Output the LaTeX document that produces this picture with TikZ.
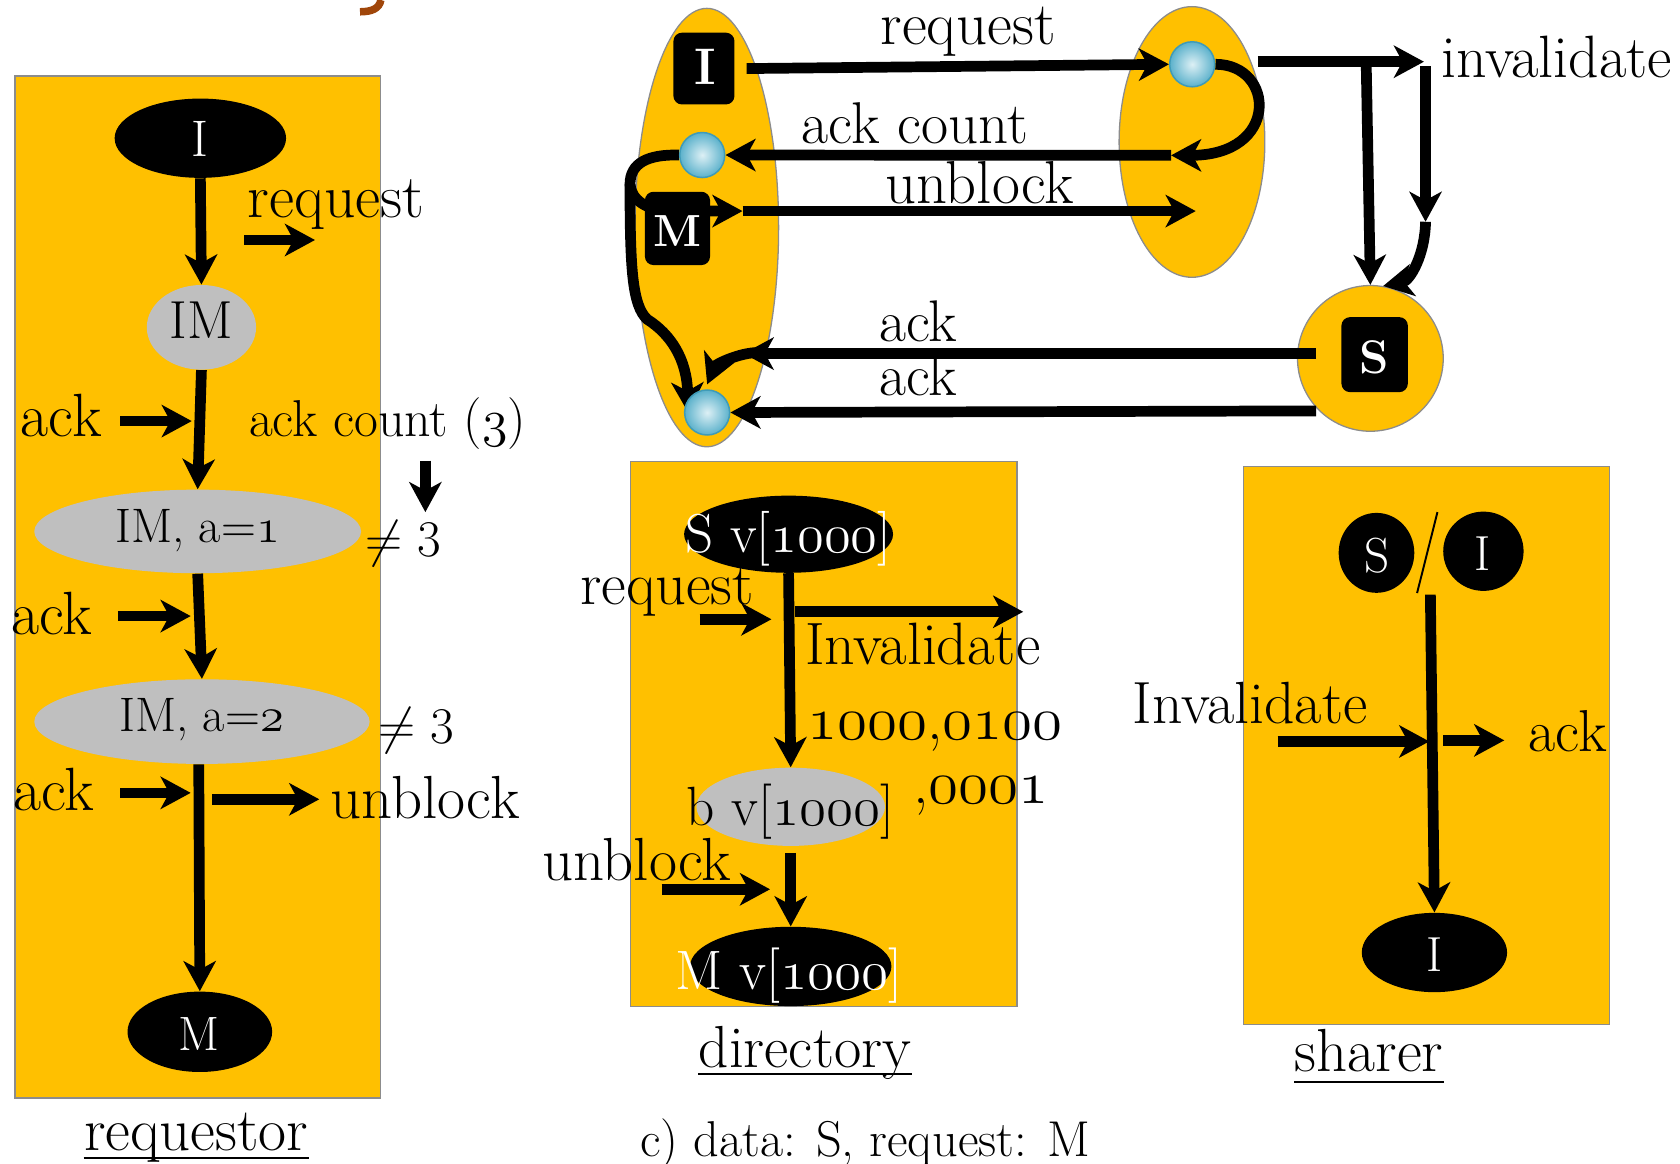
\RequirePackage{fix-cm}
\documentclass[tikz,border=0pt]{standalone}
\usetikzlibrary{shapes.geometric,arrows.meta}
\pgfdeclarelayer{back}
\pgfdeclarelayer{mid}
\pgfsetlayers{back,mid,main}
\definecolor{gold}{HTML}{FFC000}
\definecolor{stategray}{HTML}{BFBFBF}
\definecolor{edgegray}{HTML}{8C8C8C}
\definecolor{ballin}{HTML}{DDF0F5}
\definecolor{ballout}{HTML}{5BB1CB}
\definecolor{ballrim}{HTML}{3F9BB8}
\definecolor{brownc}{HTML}{A0460A}
\newcommand\fsz[1]{\fontsize{#1}{#1}\selectfont}
\newcommand\osn[1]{{\usefont{OML}{cmm}{m}{it}#1}}
\begin{document}
\begin{tikzpicture}[x=0.5pt,y=-0.5pt,
  panel/.style={draw=edgegray, line width=0.7pt, fill=gold, inner sep=0pt},
  blob/.style={ellipse, draw=edgegray, line width=0.6pt, fill=gold, inner sep=0pt},
  blk/.style={ellipse, fill=black, inner sep=0pt},
  gry/.style={ellipse, fill=stategray, inner sep=0pt},
  tagbox/.style={rectangle, rounded corners=4pt, fill=black, inner sep=0pt},
  ballnode/.style={circle, inner sep=0pt, minimum size=21pt, draw=ballrim, line width=0.7pt, inner color=ballin, outer color=ballout},
  lab/.style={inner sep=0pt, anchor=base west, font=\fsz{28.4}},
  inlab/.style={inner sep=0pt, anchor=base, font=\fsz{24}},
  arr/.style={line width=5pt, -{Stealth[length=14pt,width=15pt,inset=4pt]}},
  uline/.style={line width=1pt}]

\useasboundingbox (0,0) rectangle (1568,1086);

% ---------- background, panels and bubbles ----------
\begin{pgfonlayer}{back}
  \fill[white] (0,0) rectangle (1568,1086);
  \node[panel, minimum width=170.5pt, minimum height=477pt] (reqP) at (184.5,548) {};
  \node[panel, minimum width=180.2pt, minimum height=254.4pt] (dirP) at (768.8,685) {};
  \node[panel, minimum width=170.7pt, minimum height=260.3pt] (shrP) at (1331.3,695.8) {};
  \node[blob, minimum width=67pt, minimum height=204.6pt] (reqE) at (659.7,212.4) {};
  \node[blob, minimum width=68pt, minimum height=126.3pt] (dirE) at (1112.5,132.5) {};
  \node[blob, minimum width=68pt, minimum height=68pt] (shrC) at (1279,334.5) {};
\end{pgfonlayer}

% fragment of a heading glyph
\draw[brownc, line width=3.5pt] (355.5,0) .. controls (354,8) and (347,11) .. (336,11);

% ---------- requestor ----------
\node[blk, minimum width=80pt, minimum height=37pt] (rI) at (187,129) {};
\node[inlab, text=white] (rIt) at (187,145.6) {I};
\node[gry, minimum width=51pt, minimum height=39.5pt] (rIM) at (188,305.5) {};
\node[inlab, font=\fsz{25}] (rIMt) at (187.7,315.6) {IM};
\node[gry, minimum width=152.5pt, minimum height=39pt] (rA) at (184.5,496) {};
\node[inlab, font=\fsz{22.6}] (rAt) at (184.3,506) {IM, a=\osn{1}};
\node[gry, minimum width=156.5pt, minimum height=39.5pt] (rB) at (188.5,673.5) {};
\node[inlab, font=\fsz{22.6}] (rBt) at (188,683) {IM, a=\osn{2}};
\node[blk, minimum width=67.5pt, minimum height=37.5pt] (rM) at (186.5,963) {};
\node[inlab, text=white, font=\fsz{22.5}] (rMt) at (185.8,980) {M};

\node[lab, font=\fsz{28.7}] (rReq) at (231,203) {request};
\node[lab, font=\fsz{28.5}] (rAck1) at (19,407.6) {ack};
\node[lab, font=\fsz{24.2}] (rCnt) at (232,407.6) {ack count (\osn{3})};
\node[lab, font=\fsz{24}] (rNe1) at (340.7,519.6) {$\neq$\hspace{7pt}3};
\node[lab, font=\fsz{28.5}] (rAck2) at (10,592) {ack};
\node[lab, font=\fsz{24}] (rNe2) at (353,693.8) {$\neq$\hspace{7pt}3};
\node[lab, font=\fsz{28.5}] (rAck3) at (12,756) {ack};
\node[lab] (rUnb) at (308,764) {unblock};
\node[lab] (rCap) at (78,1074) {requestor};
\draw[uline] ([yshift=-3.5pt]rCap.base west) -- ([yshift=-3.5pt]rCap.base east);

\coordinate (rq1) at (228,224);  \coordinate (rq2) at (294,224);
\coordinate (ra1) at (112,393);  \coordinate (ra1e) at (179,393);
\coordinate (rd1) at (397,430);  \coordinate (rd1e) at (397,478);
\coordinate (ra2) at (110,575);  \coordinate (ra2e) at (178,575);
\coordinate (ra3) at (112,740);  \coordinate (ra3e) at (178,740);
\coordinate (ru1) at (198,746);  \coordinate (ru2) at (298,746);

% ---------- directory ----------
\node[blk, minimum width=97.5pt, minimum height=36pt] (dS) at (736,498.6) {};
\node[inlab, text=white, font=\fsz{25.6}] (dSt) at (736,515.6) {S v[\osn{1000}]};
\node[gry, minimum width=88pt, minimum height=36.5pt] (dB) at (738,753) {};
\node[inlab, font=\fsz{25.8}] (dBt) at (738,770.6) {b v[\osn{1000}]};
\node[blk, minimum width=94pt, minimum height=37pt] (dM) at (738,902) {};
\node[inlab, text=white, font=\fsz{25.9}] (dMt) at (736.5,923.6) {M v[\osn{1000}]};

\node[lab, font=\fsz{28.2}] (dReq) at (541,564.5) {request};
\node[lab, font=\fsz{27.9}] (dInv) at (751,619.8) {Invalidate};
\node[lab, font=\fsz{28.6}] (dV1) at (753,690) {\osn{1000},\osn{0100}};
\node[lab, font=\fsz{28.6}] (dV2) at (852,749.5) {,\osn{0001}};
\node[lab] (dUnb) at (505.6,821.6) {unblock};
\node[lab, font=\fsz{27.7}] (dCap) at (651.7,996) {directory};
\draw[uline] ([yshift=-3.2pt]dCap.base west) -- ([yshift=-3.2pt]dCap.base east);
\node[lab, font=\fsz{23.5}] (cap) at (597,1079) {c) data: S, request: M};

\coordinate (di1) at (742,571);  \coordinate (di2) at (955,571);
\coordinate (dr1) at (653,578);  \coordinate (dr2) at (720,578);
\coordinate (du1) at (617.6,830); \coordinate (du2) at (718.7,830);

% ---------- sharer ----------
\node[blk, minimum width=35.3pt, minimum height=37.3pt] (sS) at (1284.7,516) {};
\node[inlab, text=white, font=\fsz{23}] (sSt) at (1285.7,534) {S};
\node[blk, minimum width=37.5pt, minimum height=37pt] (sI) at (1384.5,514.5) {};
\node[inlab, text=white, font=\fsz{23}] (sIt) at (1384,532) {I};
\coordinate (sl1) at (1341.6,478); \coordinate (sl2) at (1322.6,553.5);
\draw[line width=0.9pt] (sl1) -- (sl2);
\node[blk, minimum width=67.8pt, minimum height=37pt] (sIb) at (1338.8,889) {};
\node[inlab, text=white, font=\fsz{23}] (sIbt) at (1339,906.8) {I};

\node[lab, font=\fsz{27.8}] (sInv) at (1057,675.4) {Invalidate};
\node[lab, font=\fsz{27.6}] (sAck) at (1426.5,701.7) {ack};
\node[lab] (sCap) at (1208,1000.4) {sharer};
\draw[uline] ([yshift=-4.8pt]sCap.base west) -- ([yshift=-4.8pt]sCap.base east);

\coordinate (sTop) at (1335,555);
\coordinate (si1) at (1192.4,692); \coordinate (si2) at (1334,692);
\coordinate (sa1) at (1347,691);   \coordinate (sa2) at (1404,691);

% ---------- message flow ----------
\node[tagbox, minimum width=28.5pt, minimum height=33.5pt] (tI) at (657,64) {};
\node[inlab, text=white, font=\fsz{24}\bfseries] (tIt) at (658,79.3) {I};
\node[tagbox, minimum width=30.4pt, minimum height=34.2pt] (tM) at (632.3,213.2) {};
\node[inlab, text=white, font=\fsz{21}\bfseries] (tMt) at (632,230) {M};
\node[tagbox, minimum width=31pt, minimum height=35pt] (tS) at (1283,331) {};
\node[inlab, text=white, font=\fsz{22}\bfseries] (tSt) at (1283,348.4) {S};
\node[ballnode] (b1) at (1112.7,60) {};
\node[ballnode] (b2) at (655.4,144.7) {};
\node[ballnode] (b3) at (660,385) {};

\node[lab, font=\fsz{28.4}] (tReq) at (821.6,42) {request};
\node[lab, font=\fsz{27.5}] (tCnt) at (748,133.8) {ack count};
\node[lab, font=\fsz{28.3}] (tUnb) at (826,189.5) {unblock};
\node[lab, font=\fsz{27.9}] (tInv) at (1345,72) {invalidate};
\node[lab, font=\fsz{27.4}] (tAck1) at (820.5,319) {ack};
\node[lab, font=\fsz{27.4}] (tAck2) at (820.5,368.7) {ack};

\coordinate (ackc) at (1093,145);
\coordinate (cL) at (588,172);
\coordinate (mArr) at (693,197);
\coordinate (ubEnd) at (1116,197);
\coordinate (ackTip) at (694,330);
\coordinate (ackBend) at (708,329);
\coordinate (invS) at (1174,57.6);
\coordinate (invT) at (1329,57.6);
\coordinate (br1) at (1275,53);
\coordinate (br2) at (1330.5,62);
\coordinate (br2e) at (1330.5,207);

% ---------- connectors ----------
\begin{pgfonlayer}{mid}
  % requestor
  \draw[arr] (rI.south) -- (rIM.north);
  \draw[arr] (rIM.south) -- (rA.north);
  \draw[arr] (rA.south) -- (rB.north);
  \draw[arr] ([xshift=-1.5pt]rB.south) -- (rM.north);
  \draw[arr] (rq1) -- (rq2);
  \draw[arr] (ra1) -- (ra1e);
  \draw[arr] (rd1) -- (rd1e);
  \draw[arr] (ra2) -- (ra2e);
  \draw[arr] (ra3) -- (ra3e);
  \draw[arr] (ru1) -- (ru2);
  % directory
  \draw[arr] (dS.south) -- (dB.north);
  \draw[arr] ([yshift=-3pt]dB.south) -- (dM.north);
  \draw[arr] (di1) -- (di2);
  \draw[arr] (dr1) -- (dr2);
  \draw[arr] (du1) -- (du2);
  % sharer
  \draw[arr] (sTop) -- (sIb.north);
  \draw[arr] (si1) -- (si2);
  \draw[arr] (sa1) -- (sa2);
  % message flow
  \draw[arr] ([xshift=5.5pt]tI.east) -- (b1.west);
  \draw[arr] (b1.east) .. controls (1190,60) and (1195,145) .. (ackc);
  \draw[arr] (ackc) -- (b2.east);
  \draw[arr] (b2.west) .. controls (605,144) and (588,152) .. (cL)
             .. controls (589,186) and (603,197) .. (628,197) -- (mArr);
  \draw[arr] (mArr) -- (ubEnd);
  \draw[arr] (cL) .. controls (588,250) and (590,285) .. (604,298)
             .. controls (626,312) and (641,335) .. ([xshift=2pt]b3.west);
  \draw[arr] ([xshift=9pt,yshift=2.25pt]shrC.west) -- (ackTip);
  \draw[arr] (ackBend) .. controls (690,329) and (668,340) .. ([yshift=2.3pt]b3.north);
  \draw[arr] ([xshift=9pt,yshift=-24.5pt]shrC.west) -- (b3.east);
  \draw[arr] (invS) -- (invT);
  \draw[arr] (br1) -- (shrC.north);
  \draw[arr] (br2) -- (br2e);
  \draw[arr] (br2e) .. controls (1330,238) and (1316,262) .. (shrC.80);
\end{pgfonlayer}
\end{tikzpicture}
\end{document}
